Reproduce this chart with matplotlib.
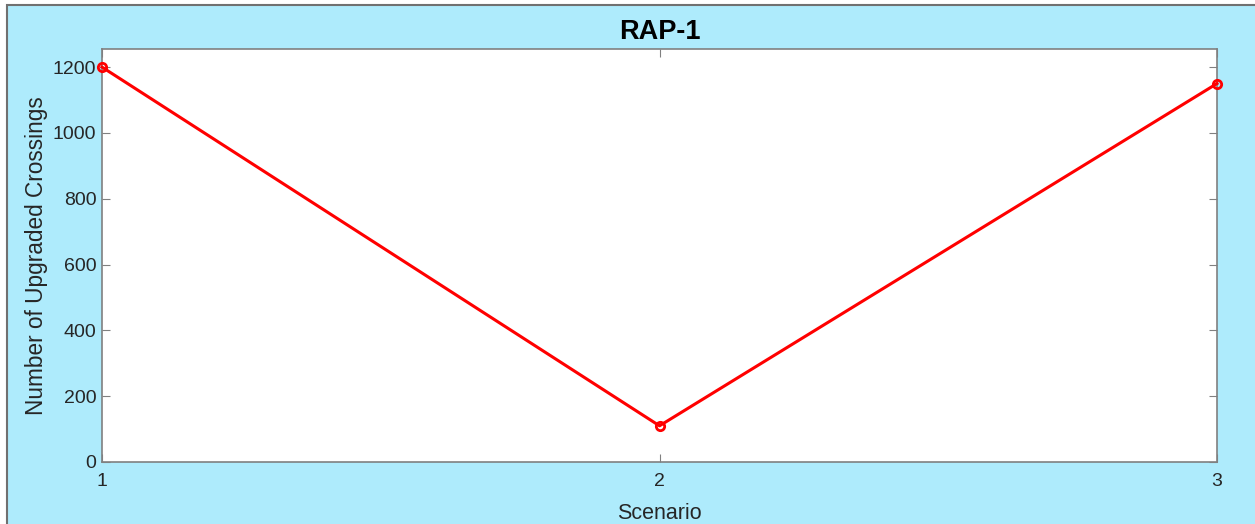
import matplotlib
matplotlib.use("Agg")
import matplotlib.pyplot as plt
from matplotlib.patches import Rectangle

scenarios = [1, 2, 3]
crossings = [1200, 110, 1150]
xticks = [1, 2, 3]
yticks = [0, 200, 400, 600, 800, 1000, 1200]
title = "RAP-1"
xlabel = "Scenario"
ylabel = "Number of Upgraded Crossings"

plt.rcParams['font.family'] = ['Liberation Sans', 'DejaVu Sans']
W, H = 1255, 524
fig = plt.figure(figsize=(W / 100, H / 100), dpi=100)
fig.patch.set_facecolor('white')
bg = '#AEEBFC'
fig.patches.append(Rectangle((7 / W, -0.02), 1 - 7 / W + 0.02, 1.02 - 5 / H,
                             transform=fig.transFigure, facecolor=bg,
                             edgecolor='#707070', linewidth=1.5, zorder=-10))

ax = fig.add_axes([102 / W, (H - 462) / H, (1217 - 102) / W, (462 - 49) / H])
ax.set_zorder(1)
ax.set_facecolor('white')
ax.plot(scenarios, crossings, color='#FF0000', linewidth=2.2, marker='o',
        markersize=6, markerfacecolor='none', markeredgewidth=2, clip_on=False, zorder=5)
ax.set_xlim(1, 3)
ax.set_ylim(0, 1255)
ax.set_xticks(xticks)
ax.set_yticks(yticks)
ax.tick_params(direction='in', top=True, right=True, length=6, width=0.8,
               colors='#808080', labelcolor='#262626', labelsize=14)
ax.tick_params(axis='x', pad=8)
ax.tick_params(axis='y', pad=4)
for s in ax.spines.values():
    s.set_color('#808080')
    s.set_linewidth(1.2)
ax.set_title(title, fontsize=19.5, fontweight='bold', color='black', pad=7)
ax.set_xlabel(xlabel, fontsize=15.5, color='#262626', labelpad=9)
ax.set_ylabel(ylabel, fontsize=16.3, color='#262626', labelpad=3.5)

fig.savefig('out.png', dpi=100, facecolor=fig.get_facecolor())
